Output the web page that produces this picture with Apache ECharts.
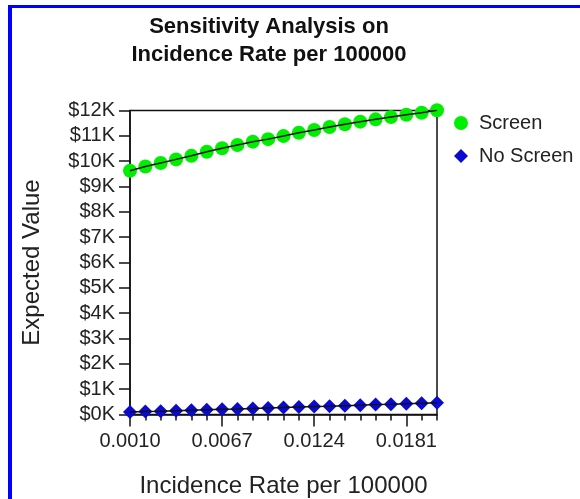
<!DOCTYPE html>
<html>
<head>
<meta charset="utf-8">
<script src="https://cdn.jsdelivr.net/npm/echarts@6/dist/echarts.min.js"></script>
<style>
html,body{margin:0;padding:0;background:#fff;}
#c{width:580px;height:499px;}
</style>
</head>
<body>
<div id="c"></div>
<script>
const incidence = [0.0010,0.00195,0.0029,0.00385,0.0048,0.00575,0.0067,0.00765,0.0086,0.00955,0.0105,0.01145,0.0124,0.01335,0.0143,0.01525,0.0162,0.01715,0.0181,0.01905,0.0200];
const screen = [9620,9790,9930,10070,10210,10370,10510,10640,10770,10870,10990,11120,11230,11350,11460,11560,11650,11740,11830,11910,12010];
const noScreen = [100,120,130,150,170,190,205,220,240,260,280,300,315,330,350,370,390,400,420,440,460];
const yTicks = {min:0, max:12000, step:1000};
const labelEvery = 6;

const FONT = 'Liberation Sans, Arial, sans-serif';
const cats = incidence.map(v => v.toFixed(4));
const chart = echarts.init(document.getElementById('c'), null, {renderer:'canvas'});
chart.setOption({
  animation:false,
  backgroundColor:'#fff',
  graphic:[
    {type:'rect', shape:{x:8, y:5, width:4, height:494}, style:{fill:'#0000ff'}},
    {type:'rect', shape:{x:8, y:5, width:572, height:3}, style:{fill:'#0000ff'}}
  ],
  title:{
    text:'Sensitivity Analysis on\nIncidence Rate per 100000',
    left:264, top:8, textAlign:'center',
    textStyle:{fontFamily:FONT, fontSize:22, fontWeight:'bold', color:'#111', lineHeight:28}
  },
  legend:{
    orient:'vertical', left:449, top:108, itemGap:13, itemWidth:14, itemHeight:14,
    data:[{name:'Screen', icon:'circle'},{name:'No Screen', icon:'diamond'}],
    textStyle:{fontFamily:FONT, fontSize:20, color:'#222', padding:[0,0,0,6]}
  },
  grid:{left:130, top:110.5, width:307, height:304, show:true, borderColor:'#111', borderWidth:1.5, backgroundColor:'transparent', containLabel:false, outerBoundsMode:'none'},
  xAxis:[
    {type:'category', data:cats, boundaryGap:false,
     name:'Incidence Rate per 100000', nameLocation:'middle', nameGap:60,
     nameTextStyle:{fontFamily:FONT, fontSize:24, color:'#222'},
     axisLine:{lineStyle:{color:'#111', width:1.5}},
     axisTick:{interval:(i)=> i % labelEvery === 0, length:12, lineStyle:{color:'#111', width:1.5}},
     axisLabel:{interval:(i)=> i % labelEvery === 0, margin:17, fontFamily:FONT, fontSize:20, color:'#222'},
     splitLine:{show:false}},
    {type:'category', data:cats, boundaryGap:false, position:'bottom',
     axisLine:{show:false},
     axisTick:{interval:0, length:6, lineStyle:{color:'#111', width:1.5}},
     axisLabel:{show:false}, splitLine:{show:false}}
  ],
  yAxis:{
    type:'value', min:yTicks.min, max:yTicks.max, interval:yTicks.step,
    name:'Expected Value', nameLocation:'middle', nameGap:86,
    nameTextStyle:{fontFamily:FONT, fontSize:24, color:'#222'},
    axisLine:{show:true, lineStyle:{color:'#111', width:1.5}},
    axisTick:{show:true, length:11, lineStyle:{color:'#111', width:1.5}},
    axisLabel:{margin:15, fontFamily:FONT, fontSize:20, color:'#222', formatter:(v)=> '$' + (v/1000) + 'K'},
    splitLine:{show:false}
  },
  series:[
    {name:'Screen', type:'scatter', data:screen, symbol:'circle', symbolSize:14, clip:false,
     itemStyle:{color:'#00ee00', opacity:1}, z:2},
    {name:'No Screen', type:'scatter', data:noScreen, symbol:'diamond', symbolSize:14, clip:false,
     itemStyle:{color:'#0a0ad0', opacity:1}, z:2},
    {name:'ScreenFit', type:'line', data:screen, symbol:'none', lineStyle:{color:'#111', width:1.5}, z:4, silent:true},
    {name:'NoScreenFit', type:'line', data:noScreen, symbol:'none', lineStyle:{color:'#111', width:1.5}, z:4, silent:true}
  ]
});
</script>
</body>
</html>
